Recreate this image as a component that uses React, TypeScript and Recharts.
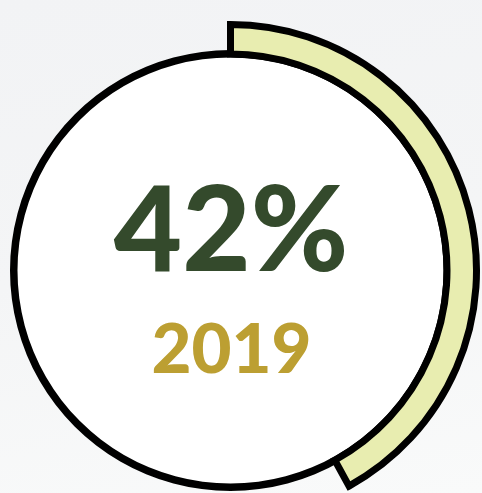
import React from "react";
import { PieChart, Pie, Cell } from "recharts";

const years = ["2019"];
const shareValues = [42];
const remainderValues = [58];
const fullCircle = [100];

const arcData = [
  { name: years[0], value: shareValues[0] },
  { name: "rest", value: remainderValues[0] },
];
const discData = [{ name: "disc", value: fullCircle[0] }];

const W = 482;
const H = 493;
const CX = 230.5;
const CY = 270.5;

export default function App() {
  return (
    <div
      style={{
        position: "fixed",
        left: 0,
        top: 0,
        width: W,
        height: H,
        background: "linear-gradient(170deg, #f2f3f5 0%, #f4f5f6 50%, #f9fafa 100%)",
        overflow: "hidden",
      }}
    >
      <PieChart width={W} height={H} margin={{ top: 0, right: 0, bottom: 0, left: 0 }}>
        <Pie
          data={discData}
          dataKey="value"
          cx={CX}
          cy={CY}
          innerRadius={0}
          outerRadius={217}
          startAngle={90}
          endAngle={-270}
          stroke="none"
          fill="#ffffff"
          isAnimationActive={false}
        />
        <Pie
          data={discData}
          dataKey="value"
          cx={CX}
          cy={CY}
          innerRadius={213}
          outerRadius={220.5}
          startAngle={90}
          endAngle={-270}
          stroke="none"
          fill="#000000"
          isAnimationActive={false}
        />
        <Pie
          data={arcData}
          dataKey="value"
          cx={CX}
          cy={CY}
          innerRadius={216.5}
          outerRadius={246}
          startAngle={90}
          endAngle={-270}
          isAnimationActive={false}
        >
          <Cell fill="#e8edb0" stroke="#000000" strokeWidth={7} />
          <Cell fill="none" stroke="none" />
        </Pie>
      </PieChart>
      <svg
        width={W}
        height={H}
        style={{ position: "absolute", left: 0, top: 0, pointerEvents: "none" }}
      >
        <text
          x={CX + 0.5}
          y={271}
          textAnchor="middle"
          fontFamily="Lato, sans-serif"
          fontWeight={900}
          fontSize={118}
          fill="#344a2c"
        >
          {`${shareValues[0]}%`}
        </text>
        <text
          x={CX + 1}
          y={373}
          textAnchor="middle"
          fontFamily="Lato, sans-serif"
          fontWeight={900}
          fontSize={69}
          fill="#bc9f32"
        >
          {years[0]}
        </text>
      </svg>
    </div>
  );
}
